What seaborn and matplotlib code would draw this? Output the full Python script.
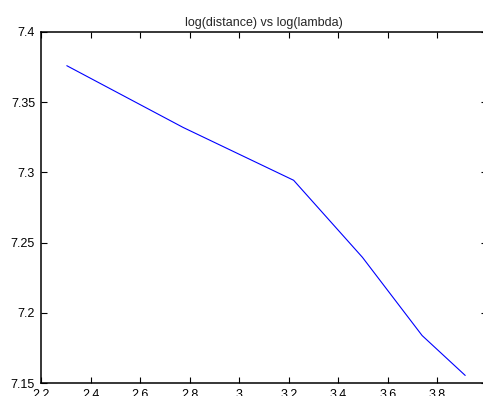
import numpy as np
import pandas as pd
import seaborn as sns
import matplotlib
matplotlib.use('Agg')
import matplotlib.pyplot as plt

# values
log_lambda = [2.303, 2.773, 3.219, 3.497, 3.738, 3.912]
log_distance = [7.376, 7.332, 7.2944, 7.2395, 7.1838, 7.1554]
x_ticks = [2.2, 2.4, 2.6, 2.8, 3.0, 3.2, 3.4, 3.6, 3.8, 4.0]
x_ticklabels = ['2.2', '2.4', '2.6', '2.8', '3', '3.2', '3.4', '3.6', '3.8', '4']
y_ticks = [7.15, 7.2, 7.25, 7.3, 7.35, 7.4]
y_ticklabels = ['7.15', '7.2', '7.25', '7.3', '7.35', '7.4']

data = pd.DataFrame({'log_lambda': log_lambda, 'log_distance': log_distance})

sns.set_style('ticks')
plt.rcParams['font.family'] = ['Liberation Sans', 'DejaVu Sans']

fig = plt.figure(figsize=(4.83, 3.96), dpi=100)
ax = fig.add_axes([0.0855, 0.0328, 0.9228, 0.8864])

sns.lineplot(data=data, x='log_lambda', y='log_distance', sort=False,
             estimator=None, color='#0000ff', linewidth=0.8, ax=ax)

ax.set_xlim(2.2, 4.0)
ax.set_ylim(7.15, 7.4)
ax.set_xticks(x_ticks)
ax.set_xticklabels(x_ticklabels)
ax.set_yticks(y_ticks)
ax.set_yticklabels(y_ticklabels)
ax.set_xlabel('')
ax.set_ylabel('')

for s in ax.spines.values():
    s.set_visible(True)
    s.set_linewidth(1.1)
    s.set_color('black')

ax.tick_params(axis='both', direction='in', length=4, width=0.8,
               top=True, right=True, labelsize=9, colors='black')
ax.tick_params(axis='x', pad=4.6)
ax.tick_params(axis='y', pad=4.5)

ax.set_title('log(distance) vs log(lambda)', fontsize=9, pad=4.5)

plt.savefig('out.png', dpi=100)
